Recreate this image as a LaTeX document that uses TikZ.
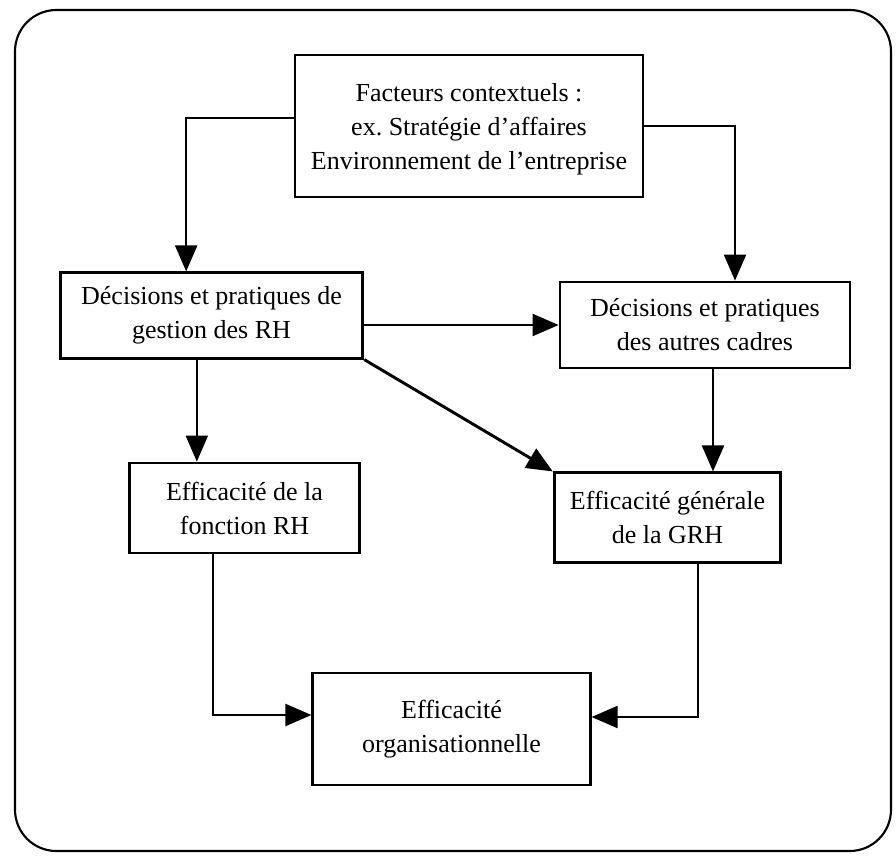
\documentclass[tikz,border=0pt]{standalone}
\usepackage{fontspec}
\setmainfont{Liberation Serif}
\usetikzlibrary{arrows.meta}
\begin{document}
\frenchspacing
\begin{tikzpicture}[x=0.75pt,y=-0.75pt,
  box/.style={draw,line width=2.1pt,align=center,inner sep=0pt,font=\fontsize{19.5}{25.5}\selectfont},
  arr/.style={line width=1.6pt,-{Triangle[length=19.5pt,width=16.5pt]}},
  frame/.style={line width=1.6pt,rounded corners=31pt}]
\useasboundingbox (0,0) rectangle (896,857);
\draw[frame] (15,10) rectangle (891,851);
\node[box,minimum width=261pt,minimum height=106.5pt,text depth=-4pt] (fact) at (469,126)
  {Facteurs contextuels :\\ex. Stratégie d’affaires\\Environnement de l’entreprise};
\node[box,minimum width=227pt,minimum height=64pt] (rh) at (211.5,315.5)
  {Décisions et pratiques de\\gestion des RH};
\node[box,minimum width=217.5pt,minimum height=64.5pt] (aut) at (705,325)
  {Décisions et pratiques\\des autres cadres};
\node[box,minimum width=173pt,minimum height=67.5pt] (fon) at (244.5,508)
  {Efficacité de la\\fonction RH};
\node[box,minimum width=170pt,minimum height=67pt] (gen) at (667.5,517.5)
  {Efficacité générale\\de la GRH};
\node[box,minimum width=208pt,minimum height=84pt] (org) at (451.5,729)
  {Efficacité\\organisationnelle};
\draw[arr] ([yshift=6pt]fact.west) -| ([xshift=-19pt]rh.north);
\draw[arr] (fact.east) -| ([xshift=22.5pt]aut.north);
\draw[arr] (rh.east |- aut.west) -- (aut.west);
\draw[arr,line width=2.2pt] (rh.south east) -- (gen.north west);
\draw[arr] ([xshift=-11pt]rh.south) -- ([xshift=-11pt]rh.south |- fon.north);
\draw[arr] ([xshift=6pt]aut.south) -- ([xshift=6pt]aut.south |- gen.north);
\draw[arr] ([xshift=-23.5pt]fon.south) |- ([yshift=10.5pt]org.west);
\draw[arr] ([xshift=23pt]gen.south) |- ([yshift=9pt]org.east);
\end{tikzpicture}
\end{document}
